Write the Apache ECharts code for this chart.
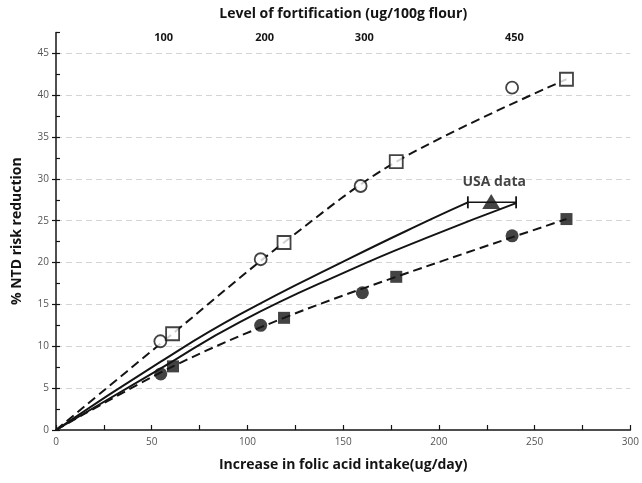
<!DOCTYPE html>
<html>
<head>
<meta charset="utf-8">
<script src="https://cdn.jsdelivr.net/npm/echarts@6/dist/echarts.min.js"></script>
<style>
  html, body { margin: 0; padding: 0; background: #fff; }
  #chart { width: 642px; height: 483px; }
</style>
</head>
<body>
<div id="chart"></div>
<script>
// modelled markers (x = folic acid intake ug/day, y = % NTD risk reduction)
const openCircles = [[54.5, 10.6], [106.9, 20.4], [159.1, 29.15], [238.2, 40.9]];
const openSquares = [[60.9, 11.5], [119.1, 22.4], [177.7, 32.05], [266.6, 41.9]];
const filledCircles = [[54.7, 6.7], [106.9, 12.5], [160, 16.4], [238.2, 23.2]];
const filledSquares = [[61.1, 7.6], [119.1, 13.4], [177.7, 18.3], [266.6, 25.2]];

// solid curves
const solidUpper = [[0, 0], [54.3, 8.1], [96, 13.8], [153.4, 20.5], [195.1, 25.1], [215.1, 27.2]];
const solidLower = [[0, 0], [54.3, 7.3], [96, 12.9], [153.4, 19.1], [195.1, 23.1], [240.3, 27.1]];

// USA data point with its range
const usaPoint = [227.3, 27.3];
const usaRange = [[215.1, 27.2], [240.3, 27.2]];

// top axis: fortification levels and where they sit on the intake scale
const fortLabels = ['100', '200', '300', '450'];
const fortIntake = [56.2, 109, 161, 239.4];

const ink = '#141414';
const labelFont = 'Open Sans';

const chart = echarts.init(document.getElementById('chart'), null, { renderer: 'canvas' });

const dashed = { color: ink, width: 2, type: [9, 5] };
const titleStyle = { fontFamily: labelFont, fontWeight: 'bold', fontSize: 14, color: ink };

chart.setOption({
  animation: false,
  grid: { left: 56, right: 11, top: 32.4, bottom: 53 },
  xAxis: [
    {
      type: 'value',
      min: 0,
      max: 300,
      interval: 25,
      name: 'Increase in folic acid intake(ug/day)',
      nameLocation: 'middle',
      nameGap: 28,
      nameTextStyle: titleStyle,
      axisLine: { lineStyle: { color: ink, width: 1.5 } },
      axisTick: { inside: true, length: 5, lineStyle: { color: ink, width: 1.2 } },
      axisLabel: {
        margin: 7,
        fontFamily: labelFont,
        fontSize: 10,
        color: '#555',
        formatter: (v) => (v % 50 === 0 ? String(v) : '')
      },
      splitLine: { show: false }
    },
    {
      type: 'value',
      position: 'top',
      min: 0,
      max: 300,
      name: 'Level of fortification (ug/100g flour)',
      nameLocation: 'middle',
      nameGap: 11,
      nameTextStyle: titleStyle,
      axisLine: { show: false },
      axisTick: { show: false },
      splitLine: { show: false },
      axisLabel: {
        inside: true,
        margin: 0,
        customValues: fortIntake,
        fontFamily: labelFont,
        fontWeight: 'bold',
        fontSize: 11,
        color: ink,
        formatter: (v) => fortLabels[fortIntake.indexOf(v)]
      }
    }
  ],
  yAxis: [
    {
      type: 'value',
      min: 0,
      max: 47.5,
      interval: 5,
      name: '% NTD risk reduction',
      nameLocation: 'middle',
      nameGap: 32,
      nameTextStyle: titleStyle,
      axisLine: { show: true, lineStyle: { color: ink, width: 1.5 } },
      axisTick: { show: true, length: 4, lineStyle: { color: ink, width: 1.2 } },
      axisLabel: {
        showMaxLabel: false,
        margin: 7,
        fontFamily: labelFont,
        fontSize: 10,
        color: '#555'
      },
      splitLine: {
        show: true,
        showMinLine: false,
        showMaxLine: false,
        lineStyle: { color: '#d4d4d4', width: 1, type: [6, 4] }
      }
    },
    {
      // minor ticks pointing into the plot
      type: 'value',
      position: 'left',
      min: 0,
      max: 47.5,
      interval: 2.5,
      axisLine: { show: false },
      axisTick: { show: true, inside: true, length: 4, lineStyle: { color: ink, width: 1.2 } },
      axisLabel: { show: false },
      splitLine: { show: false }
    }
  ],
  series: [
    {
      type: 'line',
      smooth: 0.35,
      symbol: 'none',
      data: [[0, 0]].concat(openSquares),
      lineStyle: dashed,
      z: 2
    },
    {
      type: 'line',
      smooth: 0.35,
      symbol: 'none',
      data: [[0, 0]].concat(filledSquares),
      lineStyle: dashed,
      z: 2
    },
    {
      type: 'line',
      smooth: 0.5,
      symbol: 'none',
      data: solidUpper,
      lineStyle: { color: ink, width: 2 },
      z: 2
    },
    {
      type: 'line',
      smooth: 0.5,
      symbol: 'none',
      data: solidLower,
      lineStyle: { color: ink, width: 2 },
      z: 2
    },
    {
      type: 'line',
      symbol: 'rect',
      symbolSize: [1.8, 12],
      data: usaRange,
      itemStyle: { color: ink },
      lineStyle: { color: ink, width: 1.5 },
      z: 3
    },
    {
      type: 'scatter',
      symbol: 'triangle',
      symbolSize: [18, 15],
      data: [usaPoint],
      itemStyle: { color: ink },
      label: {
        show: true,
        position: 'top',
        distance: 5,
        offset: [3, 0],
        formatter: 'USA data',
        fontFamily: labelFont,
        fontWeight: 'bold',
        fontSize: 14,
        color: ink
      },
      z: 4
    },
    {
      type: 'scatter',
      symbol: 'circle',
      symbolSize: 12,
      data: openCircles,
      itemStyle: { color: '#fff', borderColor: ink, borderWidth: 1.8 },
      z: 4
    },
    {
      type: 'scatter',
      symbol: 'rect',
      symbolSize: 13,
      data: openSquares,
      itemStyle: { color: '#fff', borderColor: ink, borderWidth: 1.8 },
      z: 4
    },
    {
      type: 'scatter',
      symbol: 'circle',
      symbolSize: 13,
      data: filledCircles,
      itemStyle: { color: ink },
      z: 4
    },
    {
      type: 'scatter',
      symbol: 'rect',
      symbolSize: 12,
      data: filledSquares,
      itemStyle: { color: ink },
      z: 4
    }
  ]
});
</script>
</body>
</html>
